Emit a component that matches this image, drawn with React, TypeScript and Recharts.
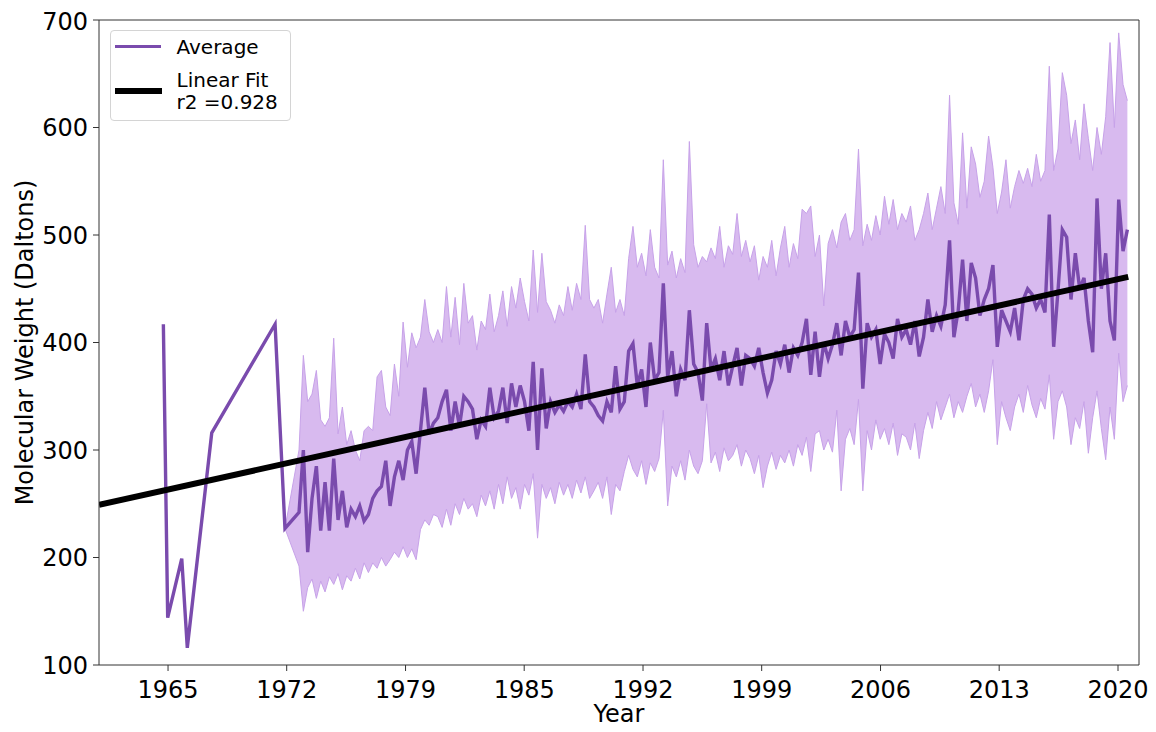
import { ComposedChart, Line, Area, XAxis, YAxis, Legend, ReferenceLine } from "recharts";

// sparse early samples (1965-1972)
const earlyYears = [1965.18, 1965.43, 1966.24, 1966.56, 1967.97, 1971.62, 1972.19];
const earlyAvg = [417, 144, 199, 116, 316, 417, 227];
const earlyLow = [null, null, null, null, null, null, 227];
const earlyHigh = [null, null, null, null, null, null, 227];

// quarterly samples from 1973.0 onward (4 per year)
const quarterStart = 1973;
const avgQ = [
  242, 300, 205, 255, 285, 225, 270, 225, 292, 235, 262, 228, 245, 238, 248, 234,
  240, 255, 262, 266, 290, 248, 275, 290, 272, 300, 308, 278, 318, 358, 315, 325,
  330, 345, 356, 318, 345, 322, 350, 345, 338, 310, 328, 322, 358, 330, 336, 358,
  325, 362, 340, 360, 345, 318, 382, 300, 376, 320, 345, 335, 342, 336, 345, 340,
  352, 338, 389, 345, 340, 332, 327, 345, 335, 378, 338, 345, 392, 399, 360, 375,
  340, 400, 365, 372, 455, 368, 392, 350, 375, 365, 430, 380, 372, 346, 418, 375,
  385, 365, 392, 360, 378, 395, 360, 388, 385, 378, 395, 372, 353, 365, 392, 380,
  398, 372, 395, 388, 400, 422, 370, 410, 368, 400, 385, 398, 418, 388, 420, 405,
  412, 465, 357, 418, 405, 412, 380, 408, 400, 385, 422, 405, 412, 398, 420, 387,
  405, 440, 410, 425, 415, 435, 495, 405, 430, 477, 420, 474, 460, 425, 440, 450,
  472, 396, 430, 420, 410, 432, 402, 440, 450, 445, 432, 440, 428, 519, 396, 448,
  505, 498, 440, 483, 450, 460, 420, 391, 534, 450, 483, 420, 402, 533, 485, 505,
];
const highQ = [
  300, 388, 345, 352, 374, 328, 322, 330, 404, 315, 340, 305, 318, 300, 290, 318,
  322, 318, 368, 374, 340, 332, 380, 350, 419, 377, 409, 395, 405, 440, 410, 400,
  412, 400, 452, 405, 442, 398, 455, 418, 425, 393, 420, 412, 445, 410, 425, 448,
  415, 452, 432, 460, 438, 420, 486, 428, 483, 438, 430, 418, 435, 425, 452, 430,
  455, 440, 509, 440, 432, 440, 418, 445, 470, 428, 440, 425, 478, 508, 470, 483,
  462, 505, 470, 460, 570, 472, 485, 460, 478, 465, 587, 491, 470, 480, 475, 488,
  478, 508, 470, 490, 482, 520, 480, 495, 475, 490, 458, 480, 470, 495, 462, 488,
  508, 470, 492, 478, 524, 520, 527, 480, 500, 434, 492, 505, 488, 512, 520, 495,
  505, 580, 490, 510, 495, 518, 500, 536, 510, 533, 505, 520, 512, 527, 495, 505,
  520, 539, 505, 525, 545, 520, 630, 530, 510, 595, 525, 582, 566, 535, 550, 592,
  563, 520, 540, 570, 525, 545, 560, 548, 562, 545, 575, 550, 560, 657, 560, 580,
  651, 630, 585, 607, 570, 622, 590, 560, 600, 575, 610, 679, 600, 688, 640, 625,
];
const lowQ = [
  192, 150, 172, 180, 162, 178, 168, 182, 175, 185, 170, 183, 178, 190, 180, 195,
  186, 195, 190, 200, 192, 198, 205, 200, 210, 200, 208, 198, 226, 235, 230, 240,
  238, 228, 245, 230, 250, 240, 255, 245, 250, 238, 258, 248, 262, 245, 268, 250,
  275, 255, 265, 245, 268, 258, 278, 218, 268, 255, 265, 250, 270, 258, 268, 255,
  272, 260, 275, 255, 262, 270, 255, 275, 240, 268, 262, 280, 295, 282, 275, 290,
  268, 288, 280, 292, 337, 248, 285, 275, 290, 272, 300, 285, 278, 290, 343, 288,
  298, 280, 302, 290, 295, 305, 285, 300, 292, 278, 295, 265, 285, 298, 282, 295,
  288, 300, 285, 305, 295, 312, 280, 315, 318, 300, 310, 298, 337, 262, 310, 320,
  305, 347, 262, 318, 300, 328, 310, 320, 305, 325, 295, 315, 312, 300, 325, 292,
  318, 335, 320, 345, 328, 340, 352, 330, 345, 335, 350, 362, 340, 352, 335, 355,
  384, 305, 345, 330, 318, 340, 352, 335, 360, 342, 330, 348, 338, 370, 310, 345,
  355, 340, 305, 330, 320, 345, 297, 330, 355, 320, 291, 340, 310, 390, 345, 360,
];

// linear fit endpoints
const fitYears = [1961.47, 2020.8];
const fitValues = [249, 461];

const xTicks = [1965.45, 1972.29, 1979.14, 1985.98, 1992.83, 1999.67, 2006.52, 2013.36, 2020.21];
const xTickLabels = ["1965", "1972", "1979", "1985", "1992", "1999", "2006", "2013", "2020"];
const yTicks = [100, 200, 300, 400, 500, 600, 700];

const X_MIN = 1961.47;
const X_MAX = 2021.42;

const AVG_COLOR = "#7a4bad";
const BAND_FILL = "#d8baef";
const BAND_EDGE = "#c7a2e9";
const FONT = "DejaVu Sans, sans-serif";

const rows = [
  ...earlyYears.map((year, i) => ({
    year,
    avg: earlyAvg[i],
    band: earlyLow[i] == null ? null : [earlyLow[i], earlyHigh[i]],
  })),
  ...avgQ.map((v, i) => ({
    year: quarterStart + i / 4,
    avg: v,
    band: [lowQ[i], highQ[i]],
  })),
];

const fitData = fitYears.map((year, i) => ({ year, fit: fitValues[i] }));

const YLabel = () => (
  <text
    transform="translate(25, 334.5) rotate(-90)"
    textAnchor="middle"
    fontSize={24}
    fontFamily={FONT}
    fill="#000"
  >
    Molecular Weight (Daltons)
  </text>
);

const XLabel = () => (
  <text x={611} y={714} textAnchor="middle" fontSize={24} fontFamily={FONT} fill="#000">
    Year
  </text>
);

const renderLegend = () => (
  <div
    style={{
      position: "relative",
      width: 181,
      height: 91,
      boxSizing: "border-box",
      border: "1px solid #d4d4d4",
      borderRadius: 4,
      background: "rgba(255,255,255,0.85)",
      fontFamily: FONT,
      fontSize: 20,
      color: "#000",
    }}
  >
    <div style={{ position: "absolute", left: 4, top: 13.5, width: 46, height: 3, background: AVG_COLOR }} />
    <div style={{ position: "absolute", left: 65.5, top: 4.4, lineHeight: "24px", whiteSpace: "nowrap" }}>
      Average
    </div>
    <div style={{ position: "absolute", left: 4, top: 57, width: 47, height: 6, background: "#000" }} />
    <div style={{ position: "absolute", left: 65.5, top: 38.4, lineHeight: "22px", whiteSpace: "nowrap" }}>
      Linear Fit
      <br />
      r2 =0.928
    </div>
  </div>
);

export default function App() {
  return (
    <div style={{ width: 1148, height: 724, background: "#fff" }}>
      <ComposedChart
        width={1148}
        height={724}
        data={rows}
        margin={{ top: 12, right: 17, bottom: 0, left: 0 }}
      >
        <XAxis
          dataKey="year"
          type="number"
          domain={[X_MIN, X_MAX]}
          allowDataOverflow
          ticks={xTicks}
          tickFormatter={(v: number) => xTickLabels[xTicks.indexOf(v)] ?? ""}
          height={67}
          stroke="#333"
          tickSize={6}
          tickMargin={10}
          tick={{ fontSize: 24, fontFamily: FONT, fill: "#000" }}
          label={<XLabel />}
        />
        <YAxis
          type="number"
          domain={[100, 700]}
          ticks={yTicks}
          width={91}
          stroke="#333"
          tickSize={6}
          tickMargin={5}
          tick={{ fontSize: 24, fontFamily: FONT, fill: "#000" }}
          label={<YLabel />}
        />
        <ReferenceLine y={700} stroke="#333" strokeWidth={1} />
        <ReferenceLine x={X_MAX} stroke="#333" strokeWidth={1} />
        <Area
          type="linear"
          dataKey="band"
          stroke={BAND_EDGE}
          strokeWidth={1}
          fill={BAND_FILL}
          fillOpacity={1}
          isAnimationActive={false}
          dot={false}
          activeDot={false}
        />
        <Line
          type="linear"
          dataKey="avg"
          stroke={AVG_COLOR}
          strokeWidth={3.4}
          dot={false}
          activeDot={false}
          isAnimationActive={false}
        />
        <Line
          type="linear"
          data={fitData}
          dataKey="fit"
          stroke="#000"
          strokeWidth={6}
          dot={false}
          activeDot={false}
          isAnimationActive={false}
        />
        <Legend
          layout="horizontal"
          verticalAlign="middle"
          align="center"
          content={renderLegend}
          wrapperStyle={{ left: 102, top: 22, width: 181, height: 91 }}
        />
      </ComposedChart>
    </div>
  );
}
